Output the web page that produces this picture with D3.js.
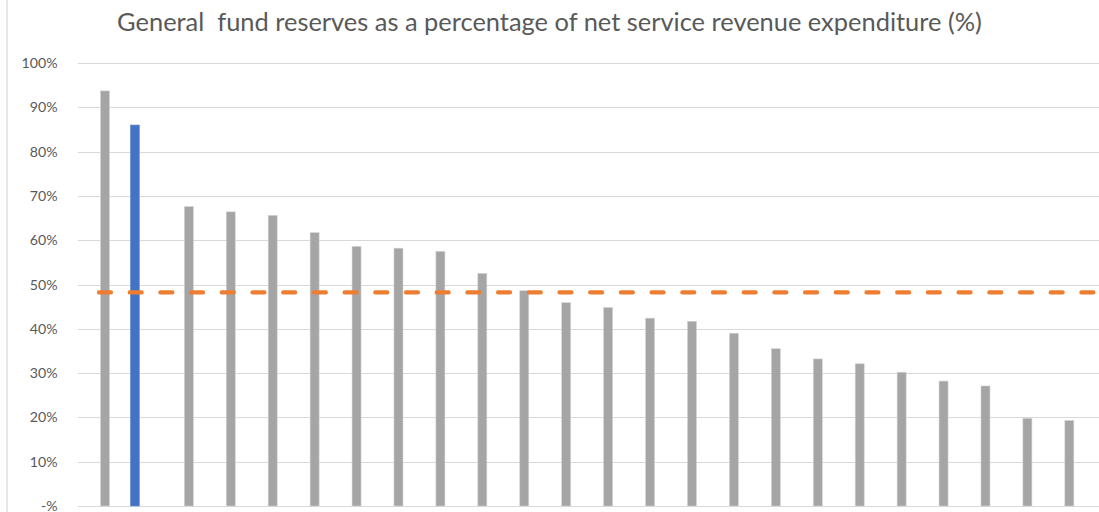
<!DOCTYPE html>
<html>
<head>
<meta charset="utf-8">
<script src="https://cdn.jsdelivr.net/npm/d3@7"></script>
<style>
  html, body { margin: 0; padding: 0; background: #fff; overflow: hidden; }
  svg { display: block; }
</style>
</head>
<body>
<div id="chart"></div>
<script>
// ---- data ----
const title = "General  fund reserves as a percentage of net service revenue expenditure (%)";
const categories = ["A","B","C","D","E","F","G","H","I","J","K","L","M","N","O","P","Q","R","S","T","U","V","W","X"];
const otherValues = [93.7, null, 67.6, 66.4, 65.6, 61.7, 58.6, 58.2, 57.5, 52.5, 48.6, 45.9, 44.8, 42.4, 41.7, 39.0, 35.5, 33.2, 32.1, 30.2, 28.2, 27.1, 19.8, 19.3];
const highlightValues = [null, 86.0, null, null, null, null, null, null, null, null, null, null, null, null, null, null, null, null, null, null, null, null, null, null];
const averageValue = 48.2;
const yTicks = [0, 10, 20, 30, 40, 50, 60, 70, 80, 90, 100];
const seriesNames = ["Highlight", "Other"];

// ---- layout ----
const W = 1099, H = 512;
const plot = { left: 78, right: 1084.3, top: 63, bottom: 506, gridRight: 1099 };
const font = "Lato, 'Open Sans', 'Liberation Sans', sans-serif";

const svg = d3.select("#chart").append("svg").attr("width", W).attr("height", H);

// chart area border (left edge visible)
svg.append("line").attr("x1", 7).attr("x2", 7).attr("y1", 0).attr("y2", H)
  .attr("stroke", "#d9d9d9").attr("stroke-width", 1.2);

const x = d3.scaleBand().domain(categories).range([plot.left, plot.right]).padding(0);
const x1 = d3.scaleBand().domain(seriesNames).range([0, x.bandwidth()]).paddingInner(0.25).paddingOuter(0.87);
const y = d3.scaleLinear().domain([0, 100]).range([plot.bottom, plot.top]);

// gridlines
svg.append("g").selectAll("line").data(yTicks).join("line")
  .attr("x1", plot.left).attr("x2", plot.gridRight)
  .attr("y1", d => Math.round(y(d)) + 0.5).attr("y2", d => Math.round(y(d)) + 0.5)
  .attr("stroke", "#d9d9d9").attr("stroke-width", 1);

// y axis labels
const yAxis = d3.axisLeft(y).tickValues(yTicks).tickSize(0).tickPadding(0)
  .tickFormat(d => d === 0 ? "-%" : d + "%");
const gy = svg.append("g").attr("transform", `translate(57.5,0)`).call(yAxis);
gy.select(".domain").remove();
const labels = gy.selectAll("text").attr("fill", "#595959").style("font-family", font).style("font-size", "14px");
// size the labels so "100%" is about as wide as in the reference
const topLabel = labels.filter(d => d === 100).node();
const lw = topLabel ? topLabel.getComputedTextLength() : 0;
if (lw > 0) labels.style("font-size", Math.min(16, 14 * 36 / lw).toFixed(2) + "px");

// bars
const barsData = [];
categories.forEach((c, i) => {
  if (otherValues[i] != null) barsData.push({ c, s: "Other", v: otherValues[i] });
  if (highlightValues[i] != null) barsData.push({ c, s: "Highlight", v: highlightValues[i] });
});
const colors = { Other: "#a5a5a5", Highlight: "#4472c4" };
const strokes = { Other: "#d4d4d4", Highlight: "#6d8fd0" };
svg.append("g").selectAll("rect").data(barsData).join("rect")
  .attr("x", d => x(d.c) + x1(d.s))
  .attr("width", x1.bandwidth())
  .attr("y", d => y(d.v))
  .attr("height", d => y(0) - y(d.v))
  .attr("fill", d => colors[d.s])
  .attr("stroke", d => strokes[d.s]).attr("stroke-width", 0.6);

// average line (dashed orange), from first category centre to right edge
const firstC = x(categories[0]) + x.bandwidth() / 2;
svg.append("line")
  .attr("x1", firstC).attr("x2", plot.gridRight + 20)
  .attr("y1", y(averageValue)).attr("y2", y(averageValue))
  .attr("stroke", "#ed7d31").attr("stroke-width", 4.2)
  .attr("stroke-linecap", "round")
  .attr("stroke-dasharray", "12,18.7");

// title
const t = svg.append("text").attr("x", 549.5).attr("y", 31).attr("text-anchor", "middle")
  .attr("fill", "#595959")
  .style("font-family", font)
  .style("font-size", "22px")
  .style("white-space", "pre")
  .attr("xml:space", "preserve")
  .text(title);
const tw = t.node().getComputedTextLength();
if (tw > 0) t.style("font-size", (22 * 865 / tw).toFixed(2) + "px");
</script>
</body>
</html>
